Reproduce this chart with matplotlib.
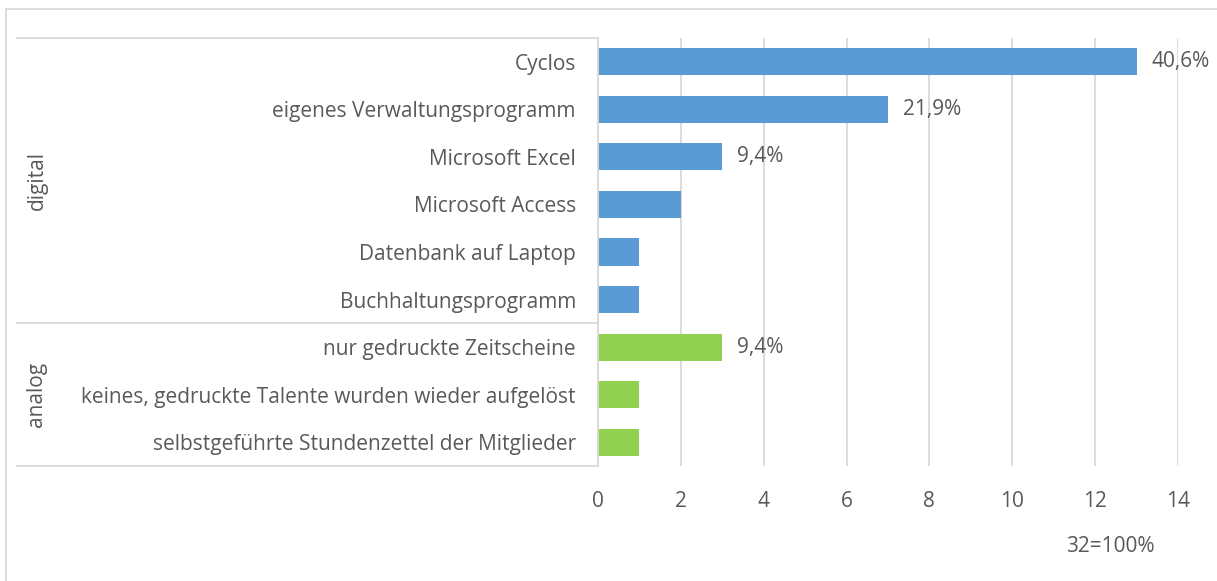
import matplotlib.pyplot as plt
from matplotlib.lines import Line2D
from matplotlib.transforms import blended_transform_factory

categories = ["Cyclos", "eigenes Verwaltungsprogramm", "Microsoft Excel",
              "Microsoft Access", "Datenbank auf Laptop", "Buchhaltungsprogramm",
              "nur gedruckte Zeitscheine",
              "keines, gedruckte Talente wurden wieder aufgelöst",
              "selbstgeführte Stundenzettel der Mitglieder"]
values = [13, 7, 3, 2, 1, 1, 3, 1, 1]
groups = ["digital"] * 6 + ["analog"] * 3
bar_labels = ["40,6%", "21,9%", "9,4%", "", "", "", "9,4%", "", ""]
group_colors = {"digital": "#5B9BD5", "analog": "#92D050"}

text_col = "#595959"
grid_col = "#D9D9D9"
fs = 15
plt.rcParams['font.family'] = ['Open Sans', 'DejaVu Sans']

W, H = 1217, 581
fig = plt.figure(figsize=(W / 100, H / 100), dpi=100)
ax = fig.add_axes([598 / W, 1 - 466 / H, 580 / W, 428 / H])

ypos = list(range(len(categories)))
colors = [group_colors[g] for g in groups]
bars = ax.barh(ypos, values, height=0.57, color=colors, zorder=3)
for b, lab in zip(bars, bar_labels):
    if lab:
        ax.text(b.get_width() + 0.35, b.get_y() + b.get_height() / 2, lab,
                va="center", ha="left", fontsize=fs, color=text_col)

ax.set_xlim(0, 14)
ax.set_ylim(len(categories) - 0.5, -0.5)
ax.set_xticks(range(0, 15, 2))
ax.set_yticks(ypos)
ax.set_yticklabels(categories)
ax.tick_params(axis="both", length=0, labelsize=fs, labelcolor=text_col)
ax.tick_params(axis="x", pad=18)
ax.tick_params(axis="y", pad=16)
ax.grid(axis="x", color=grid_col, linewidth=1.3, zorder=0)
for s in ["top", "right", "bottom"]:
    ax.spines[s].set_visible(False)
ax.spines["left"].set_color(grid_col)
ax.spines["left"].set_linewidth(1.3)
ax.spines["left"].set_zorder(4)

# group separators and group labels
tr = blended_transform_factory(fig.transFigure, ax.transData)
x0, x1 = 17 / W, 598 / W
bounds = [-0.5]
names = []
for i, g in enumerate(groups):
    if i == 0 or g != groups[i - 1]:
        if i > 0:
            bounds.append(i - 0.5)
        names.append(g)
bounds.append(len(groups) - 0.5)
for yb in bounds:
    fig.add_artist(Line2D([x0, x1], [yb, yb], transform=tr, color=grid_col, linewidth=1.3))
for name, a, b in zip(names, bounds[:-1], bounds[1:]):
    fig.text(37 / W, (a + b) / 2, name, rotation=90, ha="center", va="center",
             fontsize=fs, color=text_col, transform=tr)

# chart border
fig.add_artist(Line2D([6 / W, 1], [1 - 9 / H, 1 - 9 / H], color=grid_col, linewidth=1.3))
fig.add_artist(Line2D([6 / W, 6 / W], [0, 1 - 9 / H], color=grid_col, linewidth=1.3))

fig.text(1110 / W, 1 - 547 / H, "32=100%", ha="center", va="center",
         fontsize=fs, color=text_col)

fig.savefig("out.png", dpi=100)
